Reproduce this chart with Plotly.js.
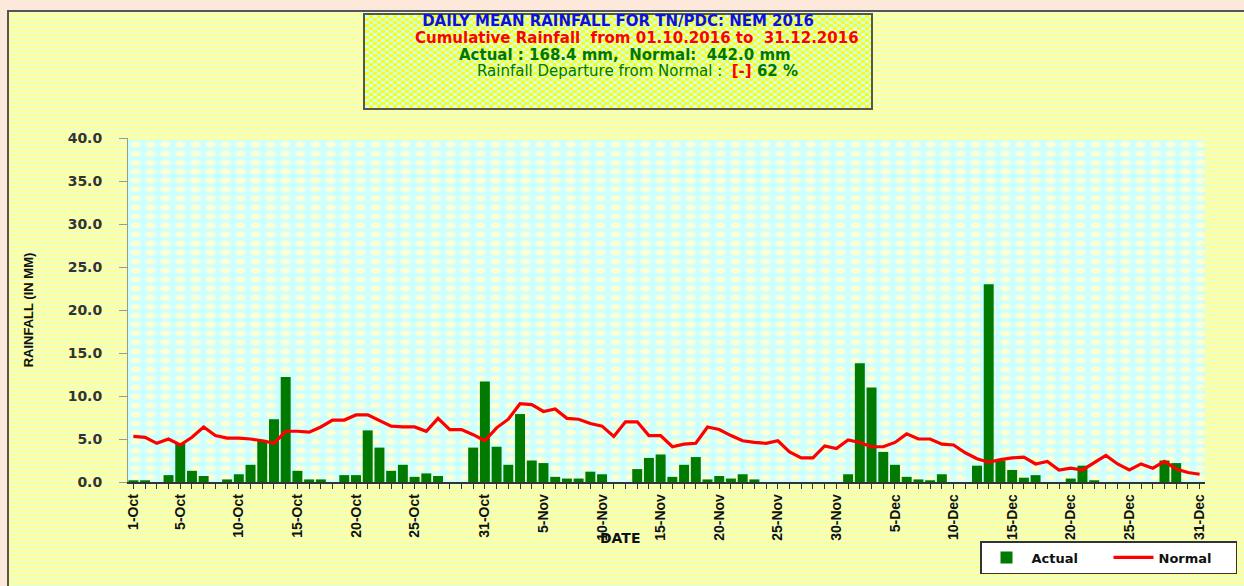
<!DOCTYPE html>
<html>
<head>
<meta charset="utf-8">
<script src="https://cdn.plot.ly/plotly-3.0.1.min.js"></script>
<style>
  html, body { margin: 0; padding: 0; background: #FDE9DC; overflow: hidden; }
  #frame {
    position: absolute; left: 7px; top: 10px; width: 1260px; height: 600px;
    border-left: 2px solid #555; border-top: 2px solid #555;
    background-color: #DDFFF8;
    background-image:
      repeating-linear-gradient(90deg, #FFFF99 0 2px, transparent 2px 4px),
      repeating-linear-gradient(0deg, #FFFF99 0 2px, transparent 2px 4px);
  }
  #plotbg {
    position: absolute; left: 128px; top: 140px; width: 1077px; height: 342px;
    background-color: #CCFFFF;
    background-image: radial-gradient(ellipse at center, #FFFFD2 0 30%, rgba(255,255,210,0) 62%);
    background-size: 15px 9px;
  }
  #titlebox {
    position: absolute; left: 363px; top: 13px; width: 506px; height: 93px;
    border: 2px solid #555;
    background: repeating-conic-gradient(#FFFF00 0 25%, #CCFFFF 0 50%) 0 0 / 8px 6px;
  }
  #chart { position: absolute; left: 0; top: 0; width: 1244px; height: 586px; }
</style>
</head>
<body>
<div id="frame"></div>
<div id="plotbg"></div>
<div id="titlebox"></div>
<div id="chart"></div>
<script>
// ---- data ----
const year = 2016;
const months = [{m: 10, name: 'Oct', days: 31}, {m: 11, name: 'Nov', days: 30}, {m: 12, name: 'Dec', days: 31}];

const octActual = [0.2,0.2,0,0.8,4.5,1.3,0.7,0,0.3,0.9,2.0,4.9,7.3,12.2,1.3,0.3,0.3,0,0.8,0.8,6.0,4.0,1.3,2.0,0.6,1.0,0.7,0,0,4.0,11.7];
const novActual = [4.1,2.0,7.9,2.5,2.2,0.6,0.4,0.4,1.2,0.9,0,0,1.5,2.8,3.2,0.6,2.0,2.9,0.3,0.7,0.4,0.9,0.3,0,0,0,0,0,0,0];
const decActual = [0.9,13.8,11.0,3.5,2.0,0.6,0.3,0.2,0.9,0,0,1.9,23.0,2.5,1.4,0.5,0.8,0,0,0.4,1.9,0.2,0,0,0,0,0,2.5,2.2,0,0];

const octNormal = [5.3,5.2,4.5,5.0,4.3,5.2,6.4,5.4,5.1,5.1,5.0,4.8,4.5,5.9,5.9,5.8,6.4,7.2,7.2,7.8,7.8,7.2,6.5,6.4,6.4,5.9,7.4,6.1,6.1,5.5,4.8];
const novNormal = [6.3,7.3,9.1,9.0,8.2,8.5,7.4,7.3,6.8,6.5,5.3,7.0,7.0,5.4,5.4,4.1,4.4,4.5,6.4,6.1,5.4,4.8,4.6,4.5,4.8,3.5,2.8,2.8,4.2,3.9];
const decNormal = [4.9,4.6,4.1,4.1,4.6,5.6,5.0,5.0,4.4,4.3,3.4,2.7,2.3,2.6,2.8,2.9,2.1,2.4,1.4,1.6,1.4,2.3,3.1,2.1,1.4,2.1,1.6,2.4,1.5,1.1,0.9];

const tickLabels = ['1-Oct','5-Oct','10-Oct','15-Oct','20-Oct','25-Oct','31-Oct','5-Nov','10-Nov','15-Nov','20-Nov','25-Nov','30-Nov','5-Dec','10-Dec','15-Dec','20-Dec','25-Dec','31-Dec'];

// ---- build date categories ----
const pad = n => String(n).padStart(2, '0');
const dates = [];
const labelOf = {};
months.forEach(mo => {
  for (let d = 1; d <= mo.days; d++) {
    const iso = year + '-' + pad(mo.m) + '-' + pad(d);
    dates.push(iso);
    labelOf[d + '-' + mo.name] = iso;
  }
});
const actual = octActual.concat(novActual, decActual);
const normal = octNormal.concat(novNormal, decNormal);
const tickVals = tickLabels.map(l => labelOf[l]);

// ---- layout helpers (pixel -> paper) ----
const L = 128, R = 39, T = 138, B = 104, W = 1244, H = 586;
const pw = W - L - R, ph = H - T - B;
const px = x => (x - L) / pw;
const py = y => (H - B - y) / ph;
const FONT = 'Liberation Sans, Arial, sans-serif';
const WIDE = 'DejaVu Sans, Liberation Sans, sans-serif';

const traces = [
  {
    type: 'bar', name: 'Actual', x: dates, y: actual,
    marker: {color: '#007A00', line: {width: 0}},
    hovertemplate: '%{x}: %{y:.1f} mm<extra>Actual</extra>'
  },
  {
    type: 'scatter', mode: 'lines', name: 'Normal', x: dates, y: normal,
    line: {color: '#FF0000', width: 3.2},
    hovertemplate: '%{x}: %{y:.1f} mm<extra>Normal</extra>'
  }
];

const layout = {
  width: W, height: H,
  margin: {l: L, r: R, t: T, b: B, pad: 0, autoexpand: false},
  paper_bgcolor: 'rgba(0,0,0,0)',
  plot_bgcolor: 'rgba(0,0,0,0)',
  bargap: 0.15,
  showlegend: true,
  font: {family: FONT, color: '#222'},
  title: {
    text: '<b>DAILY MEAN RAINFALL FOR TN/PDC: NEM 2016</b>',
    font: {family: WIDE, size: 15, color: '#1010DD'},
    x: 618 / W, xanchor: 'center', xref: 'container',
    y: 1 - 21 / H, yanchor: 'middle', yref: 'container'
  },
  xaxis: {
    type: 'date',
    range: ['2016-09-30 13:00', '2016-12-31 11:00'],
    tickmode: 'array', tickvals: tickVals, ticktext: tickLabels,
    tickangle: -90,
    tickfont: {family: FONT, size: 14, color: '#111', weight: 'bold'},
    ticks: 'outside', ticklen: 5, tickcolor: '#333', tickwidth: 1,
    minor: {ticks: 'outside', ticklen: 5, tickcolor: '#333', dtick: 86400000, tick0: '2016-10-01', showgrid: false},
    showline: true, linecolor: '#333', linewidth: 1.5,
    showgrid: false, zeroline: false, automargin: false
  },
  yaxis: {
    range: [0, 40], dtick: 5, tick0: 0, tickformat: '.1f',
    tickfont: {family: WIDE, size: 14, color: '#333', weight: 'bold'},
    ticks: 'outside', ticklen: 8, tickcolor: '#999', ticklabelstandoff: 14,
    showline: true, linecolor: '#999', linewidth: 1,
    showgrid: false, zeroline: false, automargin: false,
    title: {text: '<b>RAINFALL (IN MM)</b>', font: {family: FONT, size: 13, color: '#111'}, standoff: 31}
  },
  legend: {
    orientation: 'h',
    x: px(1237), xanchor: 'right', y: py(541), yanchor: 'top',
    bgcolor: '#FFFFFF', bordercolor: '#333', borderwidth: 1.5,
    font: {family: WIDE, size: 13, color: '#111', weight: 'bold'},
    entrywidth: 72, itemwidth: 40
  },
  annotations: [
    {
      text: '<b>Cumulative Rainfall  from 01.10.2016 to  31.12.2016</b>',
      xref: 'paper', yref: 'paper', x: px(637), y: py(38), xanchor: 'center', yanchor: 'middle',
      showarrow: false, font: {family: WIDE, size: 15, color: '#FF0000'}
    },
    {
      text: '<b>Actual : 168.4 mm,  Normal:  442.0 mm</b>',
      xref: 'paper', yref: 'paper', x: px(625), y: py(55), xanchor: 'center', yanchor: 'middle',
      showarrow: false, font: {family: WIDE, size: 15, color: '#007700'}
    },
    {
      text: 'Rainfall Departure from Normal :  <b><span style="color:#FF0000">[-]</span> 62 %</b>',
      xref: 'paper', yref: 'paper', x: px(637), y: py(71), xanchor: 'center', yanchor: 'middle',
      showarrow: false, font: {family: WIDE, size: 15, color: '#007700'}
    },
    {
      text: '<b>DATE</b>',
      xref: 'paper', yref: 'paper', x: px(620), y: py(538), xanchor: 'center', yanchor: 'middle',
      showarrow: false, font: {family: WIDE, size: 14, color: '#111'}
    }
  ]
};

Plotly.newPlot('chart', traces, layout, {displayModeBar: false, staticPlot: true});
</script>
</body>
</html>
